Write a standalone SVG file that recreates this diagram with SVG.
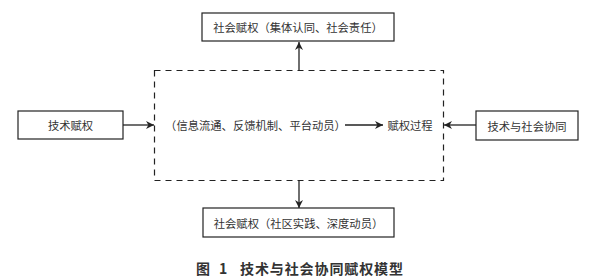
<svg xmlns="http://www.w3.org/2000/svg" width="605" height="280" viewBox="0 0 605 280">
<style>
.box{fill:#fff;stroke:#222;stroke-width:1.2}
.t{font-family:"Noto Sans CJK SC","Liberation Sans",sans-serif;font-size:11.3px;fill:#333;text-anchor:middle;dominant-baseline:central}
.ln{stroke:#222;stroke-width:1.3;fill:none}
.cap{font-family:"Noto Sans CJK SC","Liberation Sans",sans-serif;font-size:14px;font-weight:bold;fill:#333;dominant-baseline:central}
</style>
<defs>
<marker id="ah" viewBox="0 0 10 10" refX="10" refY="5" markerWidth="8" markerHeight="8" markerUnits="userSpaceOnUse" orient="auto">
<path d="M0,0 L10,5 L0,10 L3,5 Z" fill="#222"/>
</marker>
</defs>
<rect id="process" x="154.5" y="70.5" width="289" height="110" fill="none" stroke="#222" stroke-width="1.2" stroke-dasharray="6,5"/>
<g id="top">
<rect class="box" x="202" y="13" width="192" height="28"/>
<text class="t" x="298" y="27">社会赋权（集体认同、社会责任）</text>
</g>
<g id="bottom">
<rect class="box" x="203" y="208" width="191" height="29"/>
<text class="t" x="298.5" y="222.5">社会赋权（社区实践、深度动员）</text>
</g>
<g id="left">
<rect class="box" x="18" y="111" width="105" height="28"/>
<text class="t" x="70.5" y="125">技术赋权</text>
</g>
<g id="right">
<rect class="box" x="476" y="111" width="102" height="29"/>
<text class="t" x="527" y="125.5">技术与社会协同</text>
</g>
<g id="mid">
<text class="t" x="255.5" y="125">（信息流通、反馈机制、平台动员）</text>
<text class="t" x="410" y="125">赋权过程</text>
</g>
<g id="connectors">
<line class="ln" x1="299" y1="70" x2="299" y2="42" marker-end="url(#ah)"/>
<line class="ln" x1="299" y1="181" x2="299" y2="208" marker-end="url(#ah)"/>
<line class="ln" x1="123" y1="125" x2="154" y2="125" marker-end="url(#ah)"/>
<line class="ln" x1="476" y1="125" x2="444" y2="125" marker-end="url(#ah)"/>
<line class="ln" x1="345" y1="125" x2="383" y2="125" marker-end="url(#ah)"/>
</g>
<text class="cap" x="196" y="268">图 <tspan x="219">1</tspan></text>
<text class="cap" x="240" y="268" textLength="163">技术与社会协同赋权模型</text>
</svg>
